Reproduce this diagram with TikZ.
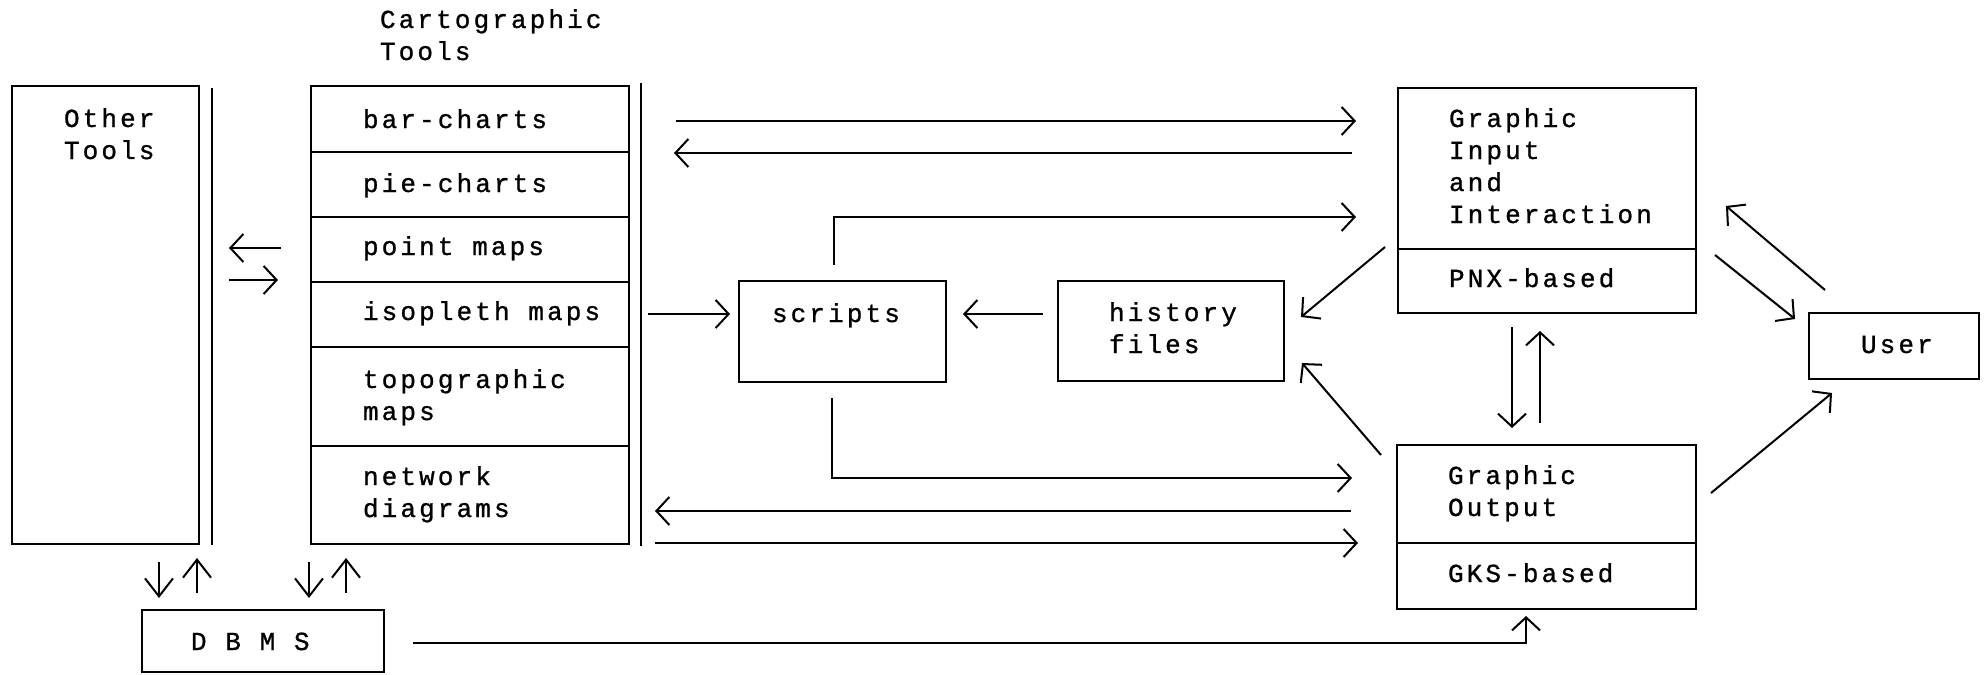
\documentclass[tikz,border=0pt]{standalone}
\usepackage{fontspec}
\newfontfamily\tw[LetterSpace=12,FakeBold=1]{Liberation Mono}
\usetikzlibrary{arrows.meta,fit}
\begin{document}
\begin{tikzpicture}[x=0.5pt,y=-0.5pt,
  line width=1pt,
  boxst/.style={draw, inner sep=0pt, fit={#1}},
  txt/.style={anchor=base west, inner sep=0pt, align=left,
              font=\tw\fontsize{13pt}{16pt}\selectfont},
  arr/.style={-{Straight Barb[length=6.5pt,width=14pt]}},
  sarr/.style={-{Straight Barb[length=9pt,width=14pt]}}
]
\useasboundingbox (0,0) rectangle (1984,674);

% ---------------- boxes
\node[boxst={(12,86) (199,544)}] (other) {};
\node[boxst={(311,86) (629,544)}] (cart) {};
\node[boxst={(739,281) (946,382)}] (scripts) {};
\node[boxst={(1058,281) (1284,381)}] (hist) {};
\node[boxst={(1398,88) (1696,313)}] (gi) {};
\node[boxst={(1397,445) (1696,609)}] (go) {};
\node[boxst={(1809,313) (1979,379)}] (user) {};
\node[boxst={(142,610) (384,672)}] (dbms) {};

% dividers
\foreach \yy in {152,217,282,347,446}
  \draw (cart.west |- 0,\yy) -- (cart.east |- 0,\yy);
\draw (gi.west |- 0,249) -- (gi.east |- 0,249);
\draw (go.west |- 0,543) -- (go.east |- 0,543);

% vertical rules
\coordinate (r1t) at (212,88);  \coordinate (r1b) at (212,545);
\coordinate (r2t) at (641,83);  \coordinate (r2b) at (641,546);
\draw (r1t) -- (r1b);
\draw (r2t) -- (r2b);

% ---------------- texts (base = baseline of the last line)
\node[txt] (cartlbl) at (379,60) {Cartographic\\Tools};
\node[txt] (othert) at (63,159) {Other\\Tools};
\node[txt] (t1) at (362,128) {bar-charts};
\node[txt] (t2) at (362,192) {pie-charts};
\node[txt] (t3) at (362,255) {point maps};
\node[txt] (t4) at (362,320) {isopleth maps};
\node[txt] (t5) at (362,420) {topographic\\maps};
\node[txt] (t6) at (362,517) {network\\diagrams};
\node[txt] (scriptst) at (771,322) {scripts};
\node[txt] (histt) at (1108,353) {history\\files};
\node[txt] (git) at (1448,223) {Graphic\\Input\\and\\Interaction};
\node[txt] (gib) at (1448,287) {PNX-based};
\node[txt] (got) at (1447,516) {Graphic\\Output};
\node[txt] (gob) at (1447,582) {GKS-based};
\node[txt] (usert) at (1860,353) {User};
\node[txt] (dbmst) at (190,650) {D B M S};

% ---------------- connector end points
\coordinate (a1s) at (676,121);  \coordinate (a1e) at (1356,121);
\coordinate (a2s) at (1352,153); \coordinate (a2e) at (674,153);
\coordinate (a3s) at (834,265);  \coordinate (a3e) at (1356,217);
\coordinate (a4s) at (648,314);  \coordinate (a4e) at (730,314);
\coordinate (a5s) at (1043,314); \coordinate (a5e) at (963,314);
\coordinate (a6s) at (1385,247); \coordinate (a6e) at (1301,317);
\coordinate (a7s) at (1381,455); \coordinate (a7e) at (1302,363);
\coordinate (a8s) at (832,398);  \coordinate (a8e) at (1352,478);
\coordinate (a9s) at (1351,511); \coordinate (a9e) at (655,511);
\coordinate (a10s) at (655,543); \coordinate (a10e) at (1358,543);
\coordinate (a11s) at (1512,327); \coordinate (a11e) at (1512,428);
\coordinate (a12s) at (1540,423); \coordinate (a12e) at (1540,331);
\coordinate (a13s) at (1825,290); \coordinate (a13e) at (1726,206);
\coordinate (a14s) at (1715,255); \coordinate (a14e) at (1795,319);
\coordinate (a15s) at (1711,493); \coordinate (a15e) at (1832,393);
\coordinate (a16s) at (413,643);  \coordinate (a16e) at (1526,616);
\coordinate (a17s) at (281,248);  \coordinate (a17e) at (229,248);
\coordinate (a18s) at (229,280);  \coordinate (a18e) at (278,280);
\coordinate (a19s) at (159,562);  \coordinate (a19e) at (159,598);
\coordinate (a20s) at (197,593);  \coordinate (a20e) at (197,558);
\coordinate (a21s) at (309,562);  \coordinate (a21e) at (309,598);
\coordinate (a22s) at (346,593);  \coordinate (a22e) at (346,558);

% ---------------- connectors
\draw[arr] (a1s) -- (a1e);
\draw[arr] (a2s) -- (a2e);
\draw[arr] (a3s) |- (a3e);
\draw[arr] (a4s) -- (a4e);
\draw[arr] (a5s) -- (a5e);
\draw[arr] (a6s) -- (a6e);
\draw[arr] (a7s) -- (a7e);
\draw[arr] (a8s) |- (a8e);
\draw[arr] (a9s) -- (a9e);
\draw[arr] (a10s) -- (a10e);
\draw[arr] (a11s) -- (a11e);
\draw[arr] (a12s) -- (a12e);
\draw[arr] (a13s) -- (a13e);
\draw[arr] (a14s) -- (a14e);
\draw[arr] (a15s) -- (a15e);
\draw[arr] (a16s) -| (a16e);
\draw[arr] (a17s) -- (a17e);
\draw[arr] (a18s) -- (a18e);
\draw[sarr] (a19s) -- (a19e);
\draw[sarr] (a20s) -- (a20e);
\draw[sarr] (a21s) -- (a21e);
\draw[sarr] (a22s) -- (a22e);
\end{tikzpicture}
\end{document}
